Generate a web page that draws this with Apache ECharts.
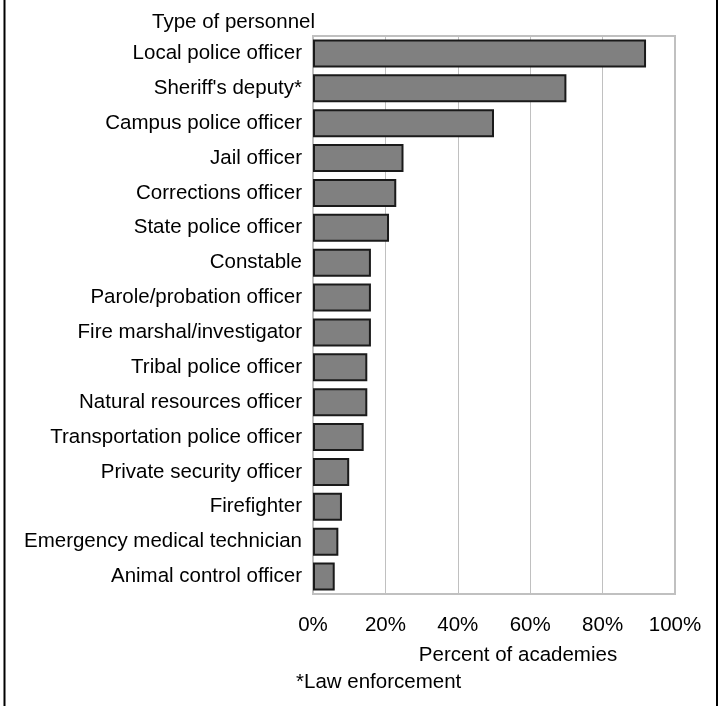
<!DOCTYPE html>
<html>
<head>
<meta charset="utf-8">
<script src="https://cdn.jsdelivr.net/npm/echarts@6/dist/echarts.min.js"></script>
<style>html,body{margin:0;padding:0;background:#fff}#c{width:718px;height:706px}</style>
</head>
<body>
<div id="c"></div>
<script>
const categories = [
  "Local police officer",
  "Sheriff's deputy*",
  "Campus police officer",
  "Jail officer",
  "Corrections officer",
  "State police officer",
  "Constable",
  "Parole/probation officer",
  "Fire marshal/investigator",
  "Tribal police officer",
  "Natural resources officer",
  "Transportation police officer",
  "Private security officer",
  "Firefighter",
  "Emergency medical technician",
  "Animal control officer"
];
const percentValues = [92, 70, 50, 25, 23, 21, 16, 16, 16, 15, 15, 14, 10, 8, 7, 6];
const tickValues = [0, 20, 40, 60, 80, 100];

const FONT = "'Liberation Sans', Arial, sans-serif";
const FS = 20.5;
const chart = echarts.init(document.getElementById('c'), null, {renderer: 'canvas'});
chart.setOption({
  animation: false,
  backgroundColor: '#ffffff',
  grid: {
    left: 313, right: 43, top: 36, bottom: 112,
    show: true, borderColor: '#c0c0c0', borderWidth: 2, containLabel: false
  },
  xAxis: {
    type: 'value', min: tickValues[0], max: tickValues[tickValues.length - 1], interval: 20,
    axisLine: {show: false}, axisTick: {show: false},
    splitLine: {show: true, lineStyle: {color: '#c0c0c0', width: 1}},
    axisLabel: {formatter: v => v + '%', color: '#000', fontSize: FS, fontFamily: FONT, margin: 21}
  },
  yAxis: {
    type: 'category', data: categories, inverse: true,
    axisLine: {show: true, lineStyle: {color: '#c0c0c0', width: 2}},
    axisTick: {show: false}, splitLine: {show: false},
    axisLabel: {color: '#000', fontSize: FS, fontFamily: FONT, margin: 11}
  },
  series: [{
    type: 'bar', data: percentValues, barCategoryGap: '20%',
    itemStyle: {color: '#808080', borderColor: '#1a1a1a', borderWidth: 2},
    silent: true
  }],
  graphic: [
    {type: 'text', x: 315, y: 22, style: {text: 'Type of personnel', fill: '#000', font: FS + 'px ' + FONT, textAlign: 'right', textVerticalAlign: 'middle'}},
    {type: 'text', x: 518, y: 655, style: {text: 'Percent of academies', fill: '#000', font: FS + 'px ' + FONT, textAlign: 'center', textVerticalAlign: 'middle'}},
    {type: 'text', x: 296, y: 682, style: {text: '*Law enforcement', fill: '#000', font: FS + 'px ' + FONT, textAlign: 'left', textVerticalAlign: 'middle'}},
    {type: 'line', shape: {x1: 4.5, y1: 0, x2: 4.5, y2: 706}, style: {stroke: '#000', lineWidth: 2}},
    {type: 'line', shape: {x1: 717, y1: 0, x2: 717, y2: 706}, style: {stroke: '#000', lineWidth: 2}}
  ]
});
</script>
</body>
</html>
